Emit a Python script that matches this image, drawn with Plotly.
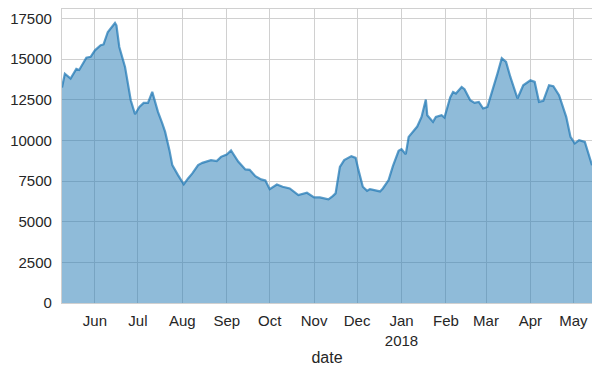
import plotly.graph_objects as go

dates = [
    "2017-05-09", "2017-05-11", "2017-05-15", "2017-05-19", "2017-05-21", "2017-05-26",
    "2017-05-29", "2017-06-01", "2017-06-05", "2017-06-07", "2017-06-10", "2017-06-13",
    "2017-06-15", "2017-06-16", "2017-06-18", "2017-06-22", "2017-06-26", "2017-06-29",
    "2017-07-02", "2017-07-05", "2017-07-08", "2017-07-11", "2017-07-12", "2017-07-15",
    "2017-07-18", "2017-07-20", "2017-07-23", "2017-07-25", "2017-07-29", "2017-08-02",
    "2017-08-05", "2017-08-08", "2017-08-12", "2017-08-15", "2017-08-21", "2017-08-25",
    "2017-08-28", "2017-09-01", "2017-09-04", "2017-09-08", "2017-09-09", "2017-09-14",
    "2017-09-17", "2017-09-21", "2017-09-25", "2017-09-28", "2017-10-01", "2017-10-06",
    "2017-10-10", "2017-10-15", "2017-10-21", "2017-10-27", "2017-11-01", "2017-11-05",
    "2017-11-09", "2017-11-11", "2017-11-14", "2017-11-16", "2017-11-19", "2017-11-22",
    "2017-11-27", "2017-11-30", "2017-12-02", "2017-12-05", "2017-12-08", "2017-12-10",
    "2017-12-13", "2017-12-17", "2017-12-19", "2017-12-23", "2017-12-26", "2017-12-30",
    "2018-01-01", "2018-01-04", "2018-01-06", "2018-01-09", "2018-01-12", "2018-01-15",
    "2018-01-18", "2018-01-19", "2018-01-23", "2018-01-25", "2018-01-29", "2018-01-31",
    "2018-02-04", "2018-02-06", "2018-02-08", "2018-02-12", "2018-02-14", "2018-02-18",
    "2018-02-21", "2018-02-24", "2018-02-27", "2018-03-02", "2018-03-05", "2018-03-09",
    "2018-03-12", "2018-03-15", "2018-03-18", "2018-03-23", "2018-03-27", "2018-04-01",
    "2018-04-04", "2018-04-07", "2018-04-10", "2018-04-14", "2018-04-17", "2018-04-21",
    "2018-04-26", "2018-04-29", "2018-05-02", "2018-05-05", "2018-05-09", "2018-05-10",
    "2018-05-13", "2018-05-14",
]
values = [
    13250, 14100, 13800, 14400, 14330, 15080,
    15140, 15540, 15849, 15900, 16667, 17000,
    17220, 17078, 15747, 14518, 12470, 11610,
    12059, 12304, 12304, 12981, 12673, 11752,
    11039, 10523, 9399, 8477, 7863, 7300,
    7660, 7967, 8477, 8619, 8785, 8723,
    8987, 9135, 9380, 8889, 8700, 8213,
    8190, 7802, 7600, 7530, 7000, 7290,
    7147, 7045, 6634, 6778, 6493, 6493,
    6430, 6370, 6573, 6740, 8373, 8785,
    9030, 8925, 8170, 7147, 6900, 7003,
    6942, 6862, 7045, 7556, 8416, 9356,
    9460, 9153, 10216, 10523, 10850, 11445,
    12513, 11549, 11137, 11445, 11549, 11408,
    12636, 12981, 12882, 13288, 13146, 12470,
    12304, 12366, 11960, 12059, 12882, 14110,
    15050, 14823, 13902, 12575, 13392, 13699,
    13596, 12366, 12427, 13392, 13330, 12777,
    11445, 10216, 9810, 10013, 9909, 9602,
    8785, 8477,
]

month_ticks = ["2017-06-01", "2017-07-01", "2017-08-01", "2017-09-01", "2017-10-01",
               "2017-11-01", "2017-12-01", "2018-01-01", "2018-02-01", "2018-03-01",
               "2018-04-01", "2018-05-01"]
month_labels = ["Jun", "Jul", "Aug", "Sep", "Oct", "Nov", "Dec", "Jan<br>2018",
                "Feb", "Mar", "Apr", "May"]
y_ticks = [0, 2500, 5000, 7500, 10000, 12500, 15000, 17500]
y_labels = ["0", "2500", "5000", "7500", "10000", "12500", "15000", "17500"]

fig = go.Figure()
fig.add_trace(go.Scatter(
    x=dates, y=values, mode="lines", fill="tozeroy",
    line=dict(color="rgba(31,119,180,0.72)", width=2.2),
    fillcolor="rgba(31,119,180,0.5)",
    showlegend=False,
))

font = dict(family="Liberation Sans, Arial, sans-serif", size=15, color="#262626")
fig.update_layout(
    width=592, height=366,
    margin=dict(l=54, r=8, t=1, b=71, autoexpand=False),
    paper_bgcolor="white", plot_bgcolor="white",
    font=font,
    xaxis=dict(
        range=["2017-05-09", "2018-05-14"],
        tickmode="array", tickvals=month_ticks, ticktext=month_labels,
        showgrid=True, gridcolor="#d0d0d0", gridwidth=1.3,
        showline=True, linecolor="#d0d0d0", mirror=True, linewidth=1.3,
        ticks="", zeroline=False, automargin=False,
        title=dict(text="date", font=dict(size=16, color="#262626"), standoff=4),
        tickfont=dict(size=15, color="#262626"),
        ticklabelstandoff=4,
    ),
    yaxis=dict(
        range=[0, 18080],
        tickmode="array", tickvals=y_ticks, ticktext=y_labels,
        showgrid=True, gridcolor="#d0d0d0", gridwidth=1.3,
        showline=True, linecolor="#d0d0d0", mirror=True, linewidth=1.3,
        ticks="", zeroline=False, automargin=False,
        tickfont=dict(size=15, color="#262626"),
        ticklabelstandoff=6,
    ),
)
fig.write_html("out.html")
